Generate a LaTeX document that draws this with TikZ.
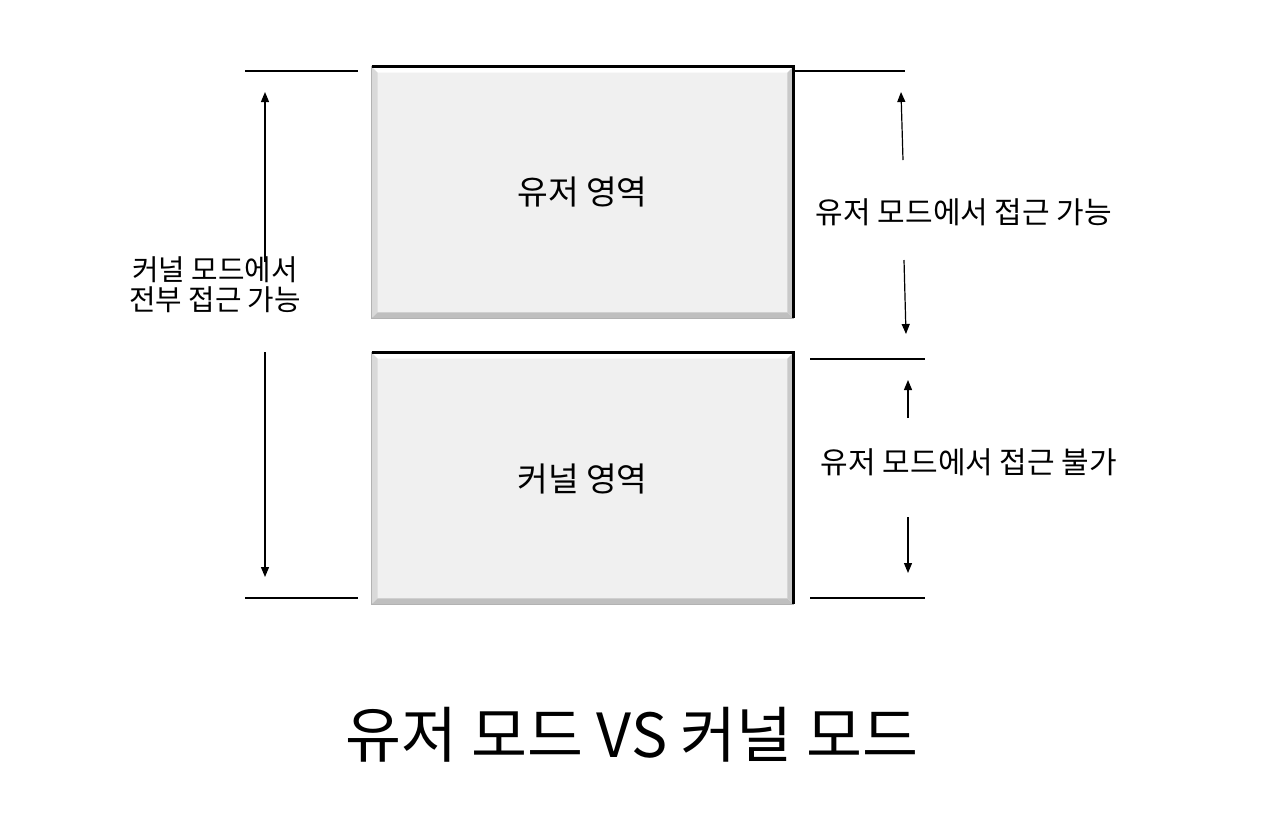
\documentclass[tikz,border=0pt]{standalone}
\usepackage{fontspec}
\setmainfont{Noto Sans CJK KR}
\usepackage{tikz}
\usetikzlibrary{positioning, arrows.meta}

\begin{document}
\begin{tikzpicture}[x=0.5pt, y=-0.5pt]
\tikzstyle{area}=[rectangle, draw=gray!60, line width=0.4pt, fill=gray!12, minimum width=210.5pt, minimum height=125.5pt, inner sep=0pt, font=\fontsize{16.7}{20}\selectfont]
\tikzstyle{lbl}=[align=center, font=\fontsize{15}{18}\selectfont]
\tikzstyle{guide}=[line width=0.6pt]
\tikzstyle{dim}=[line width=0.6pt, -{Triangle[length=5pt, width=4pt]}]
\useasboundingbox (0,0) rectangle (1280,826);
\node[area] (user) at (582.5,192.5) {유저 영역};
\node[area] (kernel) at (582.5,478.5) {커널 영역};
\foreach \b in {user, kernel} {
\fill[white] (\b.north west) -- (\b.north east) -- ([shift={(-3pt,-3pt)}]\b.north east) -- ([shift={(3pt,-3pt)}]\b.north west) -- cycle;
\fill[gray!30] (\b.north west) -- (\b.south west) -- ([shift={(3pt,3pt)}]\b.south west) -- ([shift={(3pt,-3pt)}]\b.north west) -- cycle;
\fill[gray!50] (\b.south west) -- (\b.south east) -- ([shift={(-3pt,3pt)}]\b.south east) -- ([shift={(3pt,3pt)}]\b.south west) -- cycle;
\fill[gray!42] (\b.north east) -- (\b.south east) -- ([shift={(-3pt,3pt)}]\b.south east) -- ([shift={(-3pt,-3pt)}]\b.north east) -- cycle;
\draw[gray!60, line width=0.4pt] (\b.north west) rectangle (\b.south east);
\draw[line width=1.3pt] (\b.north west) -- (\b.north east) -- (\b.south east);
}

% left side
\node[lbl, font=\fontsize{14.4}{15}\selectfont] (whole) at (215,285) {커널 모드에서\\전부 접근 가능};
\draw[guide] (245,71) -- (358,71);
\draw[guide] (245,598) -- (358,598);
\coordinate (w1) at (265,262);
\coordinate (w2) at (265,92);
\coordinate (w3) at (265,352);
\coordinate (w4) at (265,577);
\draw[dim] (w1) -- (w2);
\draw[dim] (w3) -- (w4);

% right side
\node[lbl] (ok) at (964,212) {유저 모드에서 접근 가능};
\node[lbl] (no) at (969,462) {유저 모드에서 접근 불가};
\draw[guide] (793,71) -- (905,71);
\draw[guide] (810,359) -- (925,359);
\draw[guide] (810,598) -- (925,598);
\coordinate (o1) at (903,160);
\coordinate (o2) at (901,92);
\coordinate (o3) at (904,260);
\coordinate (o4) at (906,334);
\coordinate (n1) at (908,418);
\coordinate (n2) at (908,380);
\coordinate (n3) at (908,517);
\coordinate (n4) at (908,573);
\draw[dim] (o1) -- (o2);
\draw[dim] (o3) -- (o4);
\draw[dim] (n1) -- (n2);
\draw[dim] (n3) -- (n4);

% title
\node[font=\fontsize{30.4}{36}\selectfont] (title) at (632,735) {유저 모드 VS 커널 모드};
\end{tikzpicture}
\end{document}
